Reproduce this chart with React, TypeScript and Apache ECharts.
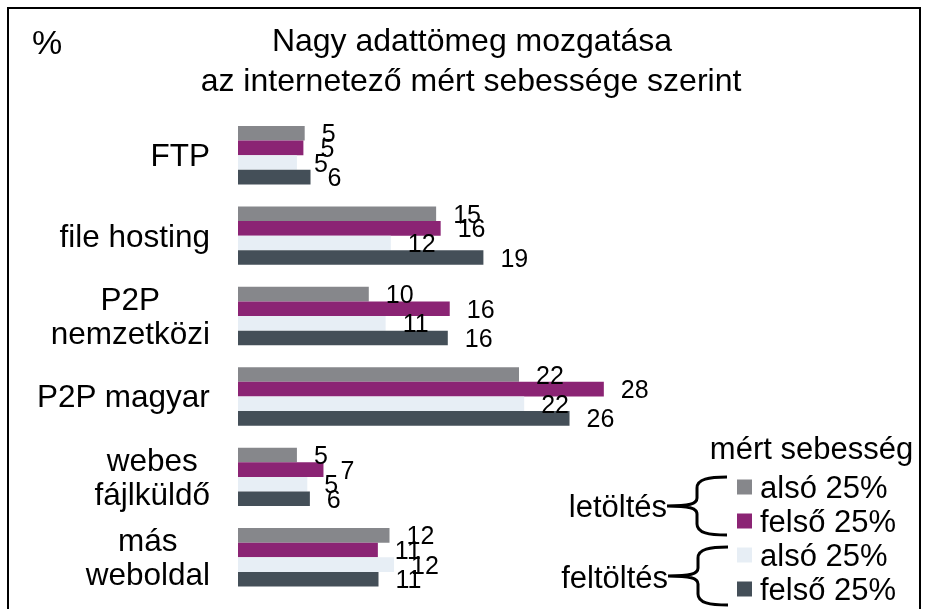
import React, { useEffect, useRef } from "react";
import * as echarts from "echarts";

const categories = ["FTP", "file hosting", "P2P\nnemzetközi", "P2P magyar", "webes\nfájlküldő", "más\nweboldal"];
const seriesNames = ["letöltés alsó 25%", "letöltés felső 25%", "feltöltés alsó 25%", "feltöltés felső 25%"];
const downloadLow = [5.15, 15.3, 10.1, 21.7, 4.55, 11.7];
const downloadHigh = [5.05, 15.65, 16.35, 28.25, 6.6, 10.8];
const uploadLow = [4.55, 11.8, 11.4, 22.1, 5.35, 12.05];
const uploadHigh = [5.6, 18.95, 16.2, 25.6, 5.55, 10.85];
const seriesColors = ["#86878b", "#8b2474", "#e7eef5", "#444f58"];

const FONT = "'Liberation Sans', Arial, sans-serif";
const BRACE_D =
  "M60,-29 C42,-29 30,-27 30,-18 L30,-8 C30,-2 22,0 0,0 M0,0 C22,0 30,2 30,8 L30,18 C30,27 42,29 60,29";

let braceRegistered = false;

export default function App() {
  const ref = useRef<HTMLDivElement>(null);
  useEffect(() => {
    if (!ref.current) return;
    if (!braceRegistered) {
      echarts.graphic.registerShape("brace", echarts.graphic.extendPath(BRACE_D, {}));
      braceRegistered = true;
    }
    const chart = echarts.init(ref.current, undefined, { renderer: "svg" });
    const values = [downloadLow, downloadHigh, uploadLow, uploadHigh];
    chart.setOption({
      animation: false,
      textStyle: { fontFamily: FONT },
      grid: { left: 238, top: 115, right: 298.5, bottom: 11.5, containLabel: false },
      xAxis: { type: "value", min: 0, max: 30, show: false },
      yAxis: {
        type: "category",
        inverse: true,
        data: categories,
        axisLine: { show: false },
        axisTick: { show: false },
        axisLabel: {
          margin: 28,
          fontSize: 31.5,
          lineHeight: 34,
          color: "#000",
          fontFamily: FONT,
          formatter: (v: string) => v.split("\n").map((l) => `{c|${l}}`).join("\n"),
          rich: { c: { align: "center", fontSize: 31.5, lineHeight: 34, color: "#000", fontFamily: FONT } },
        },
      },
      legend: {
        orient: "vertical",
        left: 737,
        top: 470,
        width: 190,
        height: 200,
        padding: 0,
        itemWidth: 15,
        itemHeight: 15,
        itemGap: 0,
        icon: "rect",
        selectedMode: false,
        data: seriesNames,
        formatter: (name: string) => name.split(" ").slice(1).join(" "),
        textStyle: { fontSize: 31, lineHeight: 34, color: "#000", fontFamily: FONT, padding: [0, 0, 0, 3] },
      },
      series: seriesNames.map((name, i) => ({
        name,
        type: "bar",
        data: values[i],
        barWidth: 14.6,
        barGap: "0%",
        itemStyle: { color: seriesColors[i] },
        label: {
          show: true,
          position: "right",
          distance: 17,
          fontSize: 25,
          color: "#000",
          fontFamily: FONT,
          formatter: (p: any) => String(Math.round(p.value)),
        },
      })),
      graphic: [
        { type: "rect", shape: { x: 8, y: 8, width: 912, height: 700 }, style: { fill: "none", stroke: "#000", lineWidth: 2 }, silent: true },
        { type: "text", x: 47, y: 42, style: { text: "%", font: `34px ${FONT}`, fill: "#000", textAlign: "center", textVerticalAlign: "middle" } },
        { type: "text", x: 472, y: 40, style: { text: "Nagy adattömeg mozgatása", font: `32px ${FONT}`, fill: "#000", textAlign: "center", textVerticalAlign: "middle" } },
        { type: "text", x: 471, y: 80, style: { text: "az internetező mért sebessége szerint", font: `32px ${FONT}`, fill: "#000", textAlign: "center", textVerticalAlign: "middle" } },
        { type: "text", x: 811.5, y: 448, style: { text: "mért sebesség", font: `31px ${FONT}`, fill: "#000", textAlign: "center", textVerticalAlign: "middle" } },
        { type: "text", x: 667, y: 506, style: { text: "letöltés", font: `31px ${FONT}`, fill: "#000", textAlign: "right", textVerticalAlign: "middle" } },
        { type: "text", x: 668, y: 577, style: { text: "feltöltés", font: `31px ${FONT}`, fill: "#000", textAlign: "right", textVerticalAlign: "middle" } },
        { type: "brace", x: 667, y: 506, style: { fill: "none", stroke: "#000", lineWidth: 3 } },
        { type: "brace", x: 668, y: 576, style: { fill: "none", stroke: "#000", lineWidth: 3 } },
      ],
    });
    return () => chart.dispose();
  }, []);
  return <div ref={ref} style={{ position: "fixed", left: 0, top: 0, width: 925, height: 609 }} />;
}
